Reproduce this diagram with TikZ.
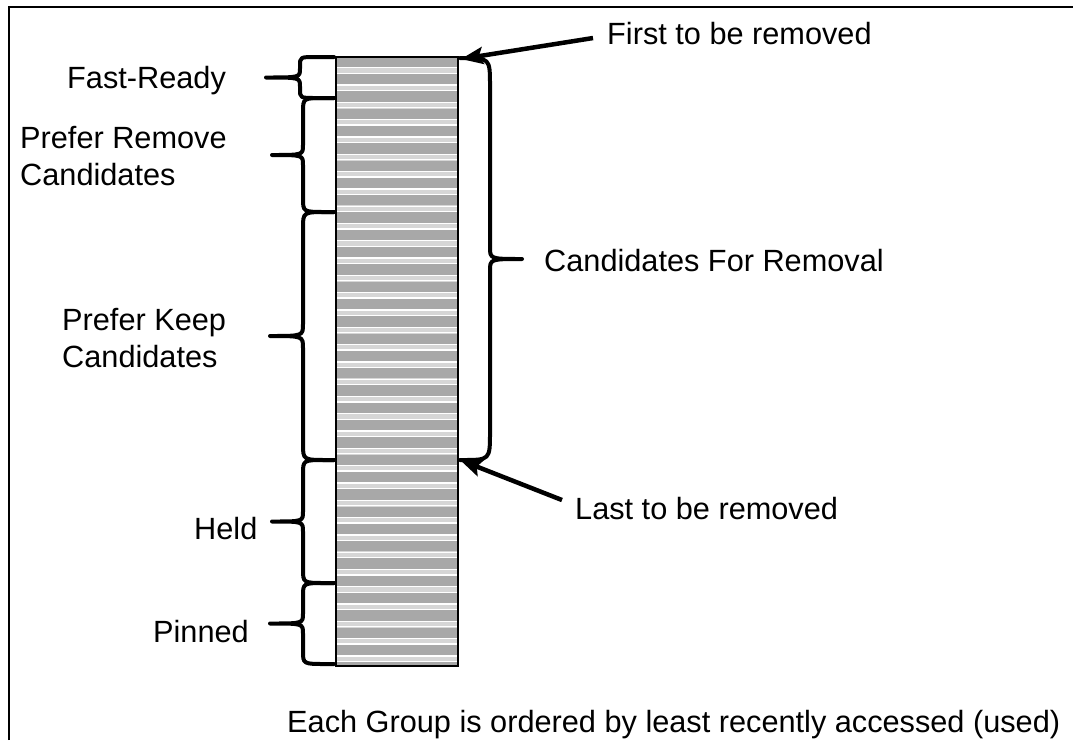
\documentclass[tikz,border=0pt]{standalone}
\usepackage{fontspec}
\setmainfont{Liberation Sans}
\usetikzlibrary{arrows.meta}
\definecolor{barGray}{RGB}{168,168,168}
\definecolor{bandGray}{RGB}{214,214,214}
\tikzset{
  brc/.style={line width=4pt, line join=round, line cap=round},
  arr/.style={line width=4.5pt, -{Stealth[length=22pt,width=17pt,inset=4pt]}},
  lbl/.style={anchor=base west, inner sep=0pt, font=\fontsize{30.7}{37}\selectfont, align=left},
  frameline/.style={line width=1.6pt}
}
% #1 bar edge x, #2 y1, #3 y2, #4 spine x, #5 tip x, #6 end radius, #7 end of straight part x, #8 tip radius
\newcommand\mybrace[8]{%
  \draw[brc] (#1,#2) -- (#7,#2) .. controls (#4,#2) .. (#4,{#2+#6})
    -- (#4,{(#2+#3)/2-#8}) .. controls (#4,{(#2+#3)/2}) .. (#5,{(#2+#3)/2})
    .. controls (#4,{(#2+#3)/2}) .. (#4,{(#2+#3)/2+#8})
    -- (#4,{#3-#6}) .. controls (#4,#3) .. (#7,#3) -- (#1,#3);}
\begin{document}
\begin{tikzpicture}[x=1pt,y=-1pt]
\useasboundingbox (0,0) rectangle (1073,740);
% frame
\draw[frameline] (9,740) -- (9,7) -- (1073,7);
% bar
\coordinate (barNW) at (336,57);
\coordinate (barNE) at (458,57);
\coordinate (barSE) at (458,666);
\coordinate (barMidE) at (458,460);
\fill[barGray] (barNW) rectangle (barSE);
\begin{scope}
\clip (barNW) rectangle (barSE);
\foreach \k in {0,...,35} {
  \fill[bandGray] (336,{67+\k*17.3}) rectangle (458,{74+\k*17.3});
  \draw[white, line width=1.3pt] (336,{67.8+\k*17.3}) -- (458,{67.8+\k*17.3});
  \draw[white, line width=1.3pt] (336,{73.2+\k*17.3}) -- (458,{73.2+\k*17.3});
}
\end{scope}
\draw[line width=1.4pt] (barNW) rectangle (barSE);
% left braces
\mybrace{334}{57}{98}{300}{266}{9}{316}{9}
\mybrace{334}{98}{212}{303}{272}{14}{326}{10}
\mybrace{334}{212}{460}{303}{270}{16}{328}{12}
\mybrace{334}{460}{583}{303}{272}{14}{326}{10}
\mybrace{334}{583}{664}{303}{270}{13}{326}{10}
% right brace
\mybrace{460}{58}{460}{490}{522}{28}{462}{12}
% labels
\node[lbl] (first) at (607,44) {First to be removed};
\node[lbl] (fast) at (67,88) {Fast-Ready};
\node[lbl, anchor=north west] (prem) at (20,126) {Prefer Remove\\Candidates};
\node[lbl] (cand) at (544,271) {Candidates For Removal};
\node[lbl, anchor=north west] (pkeep) at (62,308) {Prefer Keep\\Candidates};
\node[lbl] (last) at (575,519) {Last to be removed};
\node[lbl] (held) at (194,539) {Held};
\node[lbl] (pinned) at (153,642) {Pinned};
\node[lbl] (note) at (287,732) {Each Group is ordered by least recently accessed (used)};
% arrows
\draw[arr] ([xshift=-14pt,yshift=-5pt]first.west) -- ([xshift=3pt,yshift=-2pt]barNE);
\draw[arr] ([xshift=-13pt,yshift=8pt]last.west) -- ([xshift=2pt]barMidE);
\end{tikzpicture}
\end{document}
